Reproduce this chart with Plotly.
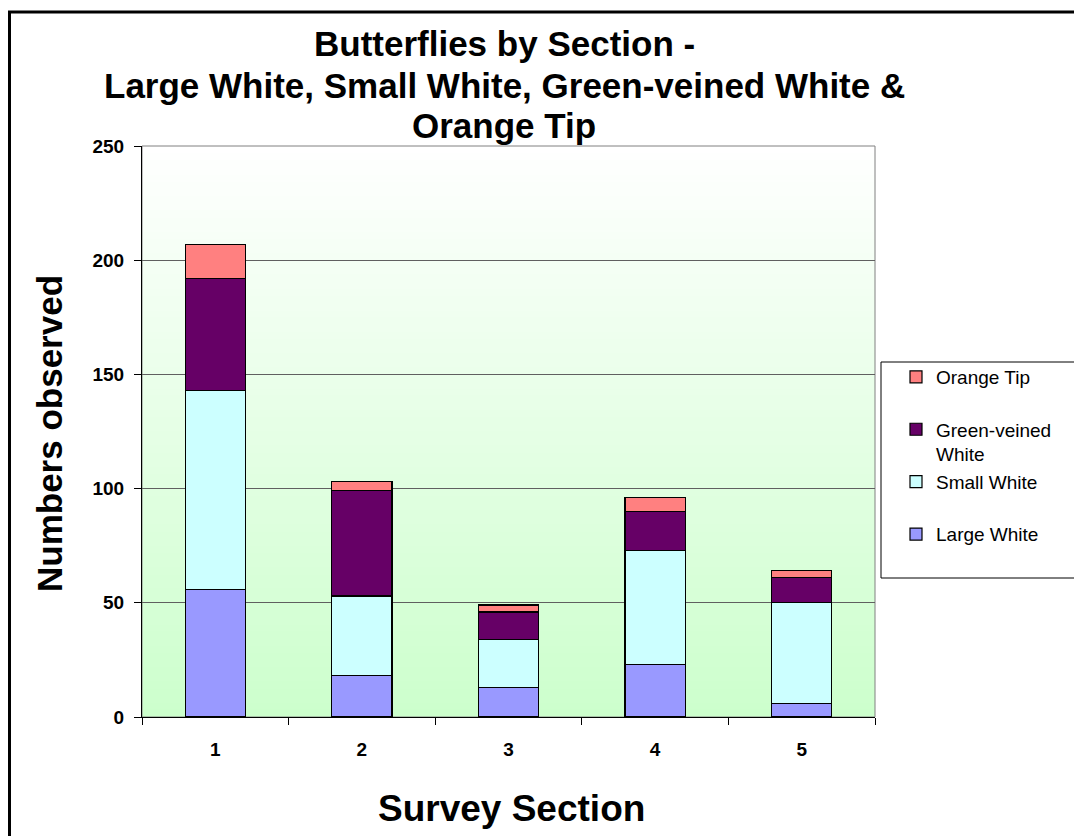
import plotly.graph_objects as go

sections = ["1", "2", "3", "4", "5"]
large_white = [56, 18, 13, 23, 6]
small_white = [87, 35, 21, 50, 44]
green_veined = [49, 46, 12, 17, 11]
orange_tip = [15, 4, 3, 6, 3]

NB = "\u00a0"
series = [
    ("Large White", large_white, "#9999FF"),
    ("Small White<br>" + NB, small_white, "#CCFFFF"),
    ("Green-veined<br>White", green_veined, "#660066"),
    ("Orange Tip<br>" + NB, orange_tip, "#FF8080"),
]

OFF = 8  # page body margin
W, H = 1082 - OFF, 836 - OFF
# plot area in screen pixels
L, R, T, B = 142, 875, 146, 717

def px(X):
    return (X - L) / (R - L)

def py(Y):
    return (B - Y) / (B - T)

fig = go.Figure()
for name, vals, col in series:
    fig.add_trace(go.Bar(
        x=sections, y=vals, name=name,
        marker=dict(color=col, line=dict(color="black", width=1.2)),
    ))

font = "Liberation Sans, Arial, sans-serif"

shapes = []
n = 80
for k in range(n):
    t = (k + 0.5) / n
    r = int(round(0xCC + (0xFF - 0xCC) * t))
    col = f"rgb({r},255,{r})"
    shapes.append(dict(type="rect", xref="paper", yref="paper",
                       x0=0, x1=1, y0=k / n, y1=(k + 1) / n + 0.002,
                       fillcolor=col, line=dict(width=0), layer="below"))
shapes.append(dict(type="rect", xref="paper", yref="paper", x0=0, x1=1, y0=0, y1=1,
                   line=dict(color="#808080", width=1), layer="below"))
shapes.append(dict(type="rect", xref="paper", yref="paper",
                   x0=px(9.5), x1=px(1300), y0=py(1000), y1=py(12),
                   line=dict(color="black", width=3)))
shapes.append(dict(type="rect", xref="paper", yref="paper",
                   x0=px(881), x1=px(1080), y0=py(578), y1=py(362),
                   line=dict(color="black", width=1), fillcolor="white", layer="below"))

annotations = []
for txt, Y in [("Butterflies by Section -", 44),
               ("Large White, Small White, Green-veined White &", 85),
               ("Orange Tip", 125)]:
    annotations.append(dict(text=f"<b>{txt}</b>", x=px(504), y=py(Y), xref="paper", yref="paper",
                            xanchor="center", yanchor="middle", showarrow=False,
                            font=dict(family=font, size=35, color="black")))
annotations.append(dict(text="<b>Numbers observed</b>", x=px(49), y=py(434), xref="paper", yref="paper",
                        xanchor="center", yanchor="middle", showarrow=False, textangle=-90,
                        font=dict(family=font, size=35, color="black")))
annotations.append(dict(text="<b>Survey Section</b>", x=px(511), y=py(808), xref="paper", yref="paper",
                        xanchor="center", yanchor="middle", showarrow=False,
                        font=dict(family=font, size=37, color="black")))

fig.update_layout(
    width=W, height=H,
    margin=dict(l=L - OFF, r=W - (R - OFF), t=T - OFF, b=H - (B - OFF), pad=0),
    barmode="stack", bargap=0.59,
    paper_bgcolor="white", plot_bgcolor="#E6FFE6",
    shapes=shapes, annotations=annotations,
    showlegend=True,
    legend=dict(x=px(896), y=py(358), xanchor="left", yanchor="top",
                traceorder="reversed", valign="top",
                bgcolor="rgba(0,0,0,0)", borderwidth=0,
                font=dict(family=font, size=19, color="black"),
                itemwidth=30),
    font=dict(family=font, color="black"),
)
fig.update_xaxes(type="category", tickson="boundaries", ticks="outside", ticklen=7,
                 tickcolor="black", showline=True, linecolor="black", linewidth=1,
                 showgrid=False, tickfont=dict(family=font, size=19, color="black"),
                 ticklabelstandoff=15, tickprefix="<b>", ticksuffix="</b>")
fig.update_yaxes(range=[0, 250], dtick=50, ticks="outside", ticklen=7, tickcolor="black",
                 showline=True, linecolor="black", linewidth=1,
                 showgrid=True, gridcolor="#606060", gridwidth=1, zeroline=False,
                 tickfont=dict(family=font, size=19, color="black"),
                 tickprefix="<b>", ticksuffix="</b>", ticklabelstandoff=6)

fig.write_html("out.html")
